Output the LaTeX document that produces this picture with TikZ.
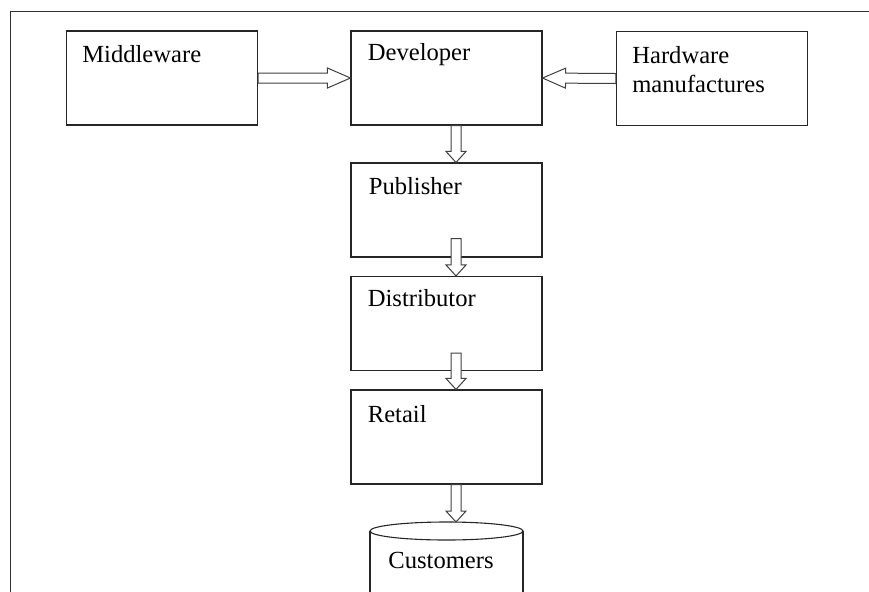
\documentclass[tikz,border=0pt]{standalone}
\usepackage{fontspec}
\setmainfont{Liberation Serif}
\usetikzlibrary{calc}

\tikzset{
  outline/.style={draw=black!85, line width=0.55pt},
  box/.style={outline, rectangle, minimum width=95.5pt, minimum height=47pt, inner sep=0pt},
  txt/.style={anchor=base west, inner sep=0pt, font=\fontsize{12.3}{14.5}\selectfont},
  frame/.style={draw=black!80, line width=0.8pt},
  % hollow block arrow, #1 = head length
  flow/.style={draw=black!75, line width=0.5pt, fill=white,
    to path={let \p1=(\tikztostart), \p2=(\tikztotarget),
      \n1={atan2(\y2-\y1,\x2-\x1)}, \n2={veclen(\x2-\x1,\y2-\y1)} in
      [shift={(\p1)}, rotate=\n1]
      (0pt,-2.5pt) -- (\n2-#1,-2.5pt) -- (\n2-#1,-5pt) -- (\n2,0pt)
      -- (\n2-#1,5pt) -- (\n2-#1,2.5pt) -- (0pt,2.5pt) -- cycle}},
  flow/.default=5.5pt
}

\begin{document}
\begin{tikzpicture}[x=0.5pt, y=-0.5pt]
\useasboundingbox (0,0) rectangle (869,591);

% outer frame, runs off the page
\draw[frame] (10.5,640) |- (900,11.5);

% boxes
\node[box] (mid) at (162,78) {};
\node[box] (dev) at (446.5,78) {};
\node[box] (hw) at (712,78.5) {};
\node[box] (pub) at (446.5,210) {};
\node[box] (dist) at (446.5,323.5) {};
\node[box] (ret) at (446.5,437) {};

% labels in the top left corner of each box
\node[txt] (midtxt) at ($(mid.north west)+(16,32)$) {Middleware};
\node[txt] (devtxt) at ($(dev.north west)+(17,30)$) {Developer};
\node[txt, anchor=north west, align=left] (hwtxt) at ($(hw.north west)+(16,15)$) {Hardware\\manufactures};
\node[txt] (pubtxt) at ($(pub.north west)+(18,32)$) {Publisher};
\node[txt] (disttxt) at ($(dist.north west)+(17,31)$) {Distributor};
\node[txt] (rettxt) at ($(ret.north west)+(17,33)$) {Retail};

% customers drum
\coordinate (custtop) at (456,522);
\draw[outline] (370,531) -- (370,640) (523,531) -- (523,640);
\draw[outline] (446.5,531) ellipse [x radius=76.5, y radius=9];
\node[txt] (cust) at (388,568) {Customers};

% arrows
\draw[flow=11.5pt] (mid.east) to (dev.west);
\draw[flow=11.5pt] (hw.west) to (dev.east);
\draw[flow] ([xshift=4.75pt]dev.south) to ([xshift=4.75pt]pub.north);
\draw[flow] ([shift={(4.75pt,9.5pt)}]pub.south) to ([xshift=4.75pt]dist.north);
\draw[flow] ([shift={(4.75pt,9pt)}]dist.south) to ([xshift=4.75pt]ret.north);
\draw[flow] ([xshift=4.75pt]ret.south) to (custtop);
\end{tikzpicture}
\end{document}
